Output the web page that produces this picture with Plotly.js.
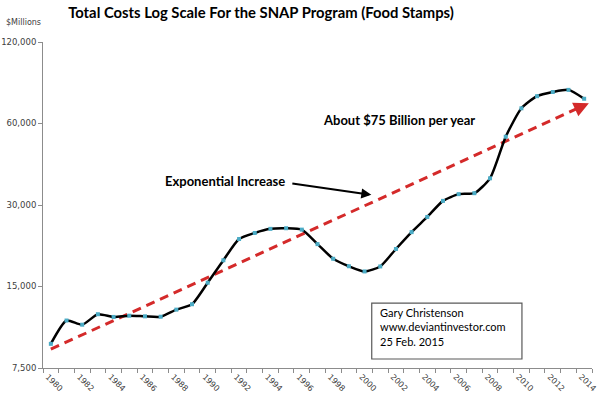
<!DOCTYPE html>
<html>
<head>
<meta charset="utf-8">
<script src="https://cdn.plot.ly/plotly-3.0.1.min.js"></script>
<style>
  html, body { margin: 0; padding: 0; background: #ffffff; }
  #chart { width: 600px; height: 398px; }
</style>
</head>
<body>
<div id="chart"></div>
<script>
// ---- data ----
const years = [1980,1981,1982,1983,1984,1985,1986,1987,1988,1989,
               1990,1991,1992,1993,1994,1995,1996,1997,1998,1999,
               2000,2001,2002,2003,2004,2005,2006,2007,2008,2009,
               2010,2011,2012,2013,2014];
const totalCosts = [9210,11230,10840,11850,11580,11700,11640,11600,12320,12900,
                    15490,18750,22460,23650,24490,24620,24330,21510,18990,17820,
                    17050,17790,20640,23820,27100,31070,32900,33170,37640,53620,
                    68280,75690,78410,79860,74060];
const trendYears = [1980, 2014];
const trendValues = [8800, 70000];
const yTickVals = [7500, 15000, 30000, 60000, 120000];
const yTickText = ["7,500", "15,000", "30,000", "60,000", "120,000"];
const xLabelStart = 1980, xLabelStep = 2;

const titleText = "Total Costs Log Scale For the SNAP Program (Food Stamps)";
const unitText = "$Millions";
const noteExp = "Exponential Increase";
const noteAbout = "About $75 Billion per year";
const creditLines = ["Gary Christenson", "www.deviantinvestor.com", "25 Feb. 2015"];

// ---- helpers ----
const axisGray = "#8c8c8c";
const tickFont = {family: "DejaVu Sans", size: 8.5, color: "#404040"};
const xTickFont = {family: "DejaVu Sans", size: 8, color: "#404040"};
const boldFont = {family: "Lato", size: 13, color: "#000000", weight: "bold"};

// arrowhead tip slightly beyond the end of the trend line, along it
const lastT = trendYears.length - 1;
const growth = Math.log10(trendValues[lastT] / trendValues[0]) / (trendYears[lastT] - trendYears[0]);
const tipYear = trendYears[lastT] + 0.3;
const tipLog = Math.log10(trendValues[lastT]) + growth * 0.3;
const tailYear = trendYears[lastT] - 0.4;
const tailLog = Math.log10(trendValues[lastT]) - growth * 0.4;

const traces = [
  {
    x: trendYears, y: trendValues, type: "scatter", mode: "lines",
    line: {color: "#d42a2a", width: 3, dash: "9px,6px"},
    hoverinfo: "skip"
  },
  {
    x: years, y: totalCosts, type: "scatter", mode: "lines+markers",
    line: {color: "#000000", width: 2.5, shape: "spline", smoothing: 0.6},
    marker: {color: "#4bacc6", size: 4, symbol: "square"}
  }
];

const layout = {
  width: 600, height: 398,
  margin: {l: 43, r: 8, t: 42, b: 30},
  paper_bgcolor: "#ffffff", plot_bgcolor: "#ffffff",
  showlegend: false,
  title: {
    text: "<b>" + titleText + "</b>",
    font: {family: "Lato", size: 14.8, color: "#000000"},
    x: 261 / 600, xref: "container", xanchor: "center",
    y: 1 - 13 / 398, yref: "container", yanchor: "middle"
  },
  xaxis: {
    type: "linear",
    range: [1979.5, 2014.5],
    tick0: xLabelStart, dtick: xLabelStep,
    ticks: "", tickangle: 45,
    tickfont: xTickFont,
    ticklabelshift: -3,
    ticklabeloverflow: "allow",
    showgrid: false, zeroline: false,
    showline: true, linecolor: axisGray, linewidth: 1,
    minor: {tick0: 1979.5, dtick: 1, ticks: "outside", ticklen: 4, tickcolor: axisGray, showgrid: false}
  },
  yaxis: {
    type: "log",
    range: [Math.log10(yTickVals[0]), Math.log10(yTickVals[yTickVals.length - 1])],
    tickmode: "array", tickvals: yTickVals, ticktext: yTickText,
    ticks: "outside", ticklen: 4, tickcolor: axisGray,
    tickfont: tickFont,
    showgrid: false, zeroline: false,
    showline: true, linecolor: axisGray, linewidth: 1
  },
  shapes: [
    {type: "rect", xref: "paper", yref: "paper",
     x0: 0.5988, x1: 0.8724, y0: 0.0276, y1: 0.1992,
     line: {color: "#595959", width: 1.2}, fillcolor: "#ffffff", layer: "above"}
  ],
  annotations: [
    {text: unitText, xref: "paper", yref: "paper", x: -0.0355, y: 1.061,
     xanchor: "center", yanchor: "middle", showarrow: false,
     font: {family: "DejaVu Sans", size: 8, color: "#404040"}},
    {text: "<b>" + noteExp + "</b>", xref: "paper", yref: "paper",
     x: 0.3308, y: 0.574, xanchor: "center", yanchor: "middle", showarrow: false,
     font: boldFont},
    {text: "<b>" + noteAbout + "</b>", xref: "paper", yref: "paper",
     x: 0.648, y: 0.761, xanchor: "center", yanchor: "middle", showarrow: false,
     font: boldFont},
    {text: creditLines.join("<br>"), xref: "paper", yref: "paper",
     x: 0.6109, y: 0.1244, xanchor: "left", yanchor: "middle", align: "left",
     showarrow: false,
     font: {family: "Lato", size: 11, color: "#000000"}},
    // black arrow from "Exponential Increase" to the trend line
    {x: 2000.43, y: Math.log10(32700), xref: "x", yref: "y",
     ax: 1995.3, ay: Math.log10(36100), axref: "x", ayref: "y",
     text: "", showarrow: true, arrowhead: 2, arrowsize: 1, arrowwidth: 2,
     arrowcolor: "#000000"},
    // red arrowhead at the end of the trend line
    {x: tipYear, y: tipLog, xref: "x", yref: "y",
     ax: tailYear, ay: tailLog, axref: "x", ayref: "y",
     text: "", showarrow: true, arrowhead: 2, arrowsize: 1, arrowwidth: 3,
     arrowcolor: "#d42a2a"}
  ]
};

Plotly.newPlot("chart", traces, layout, {displayModeBar: false, staticPlot: true});
</script>
</body>
</html>
